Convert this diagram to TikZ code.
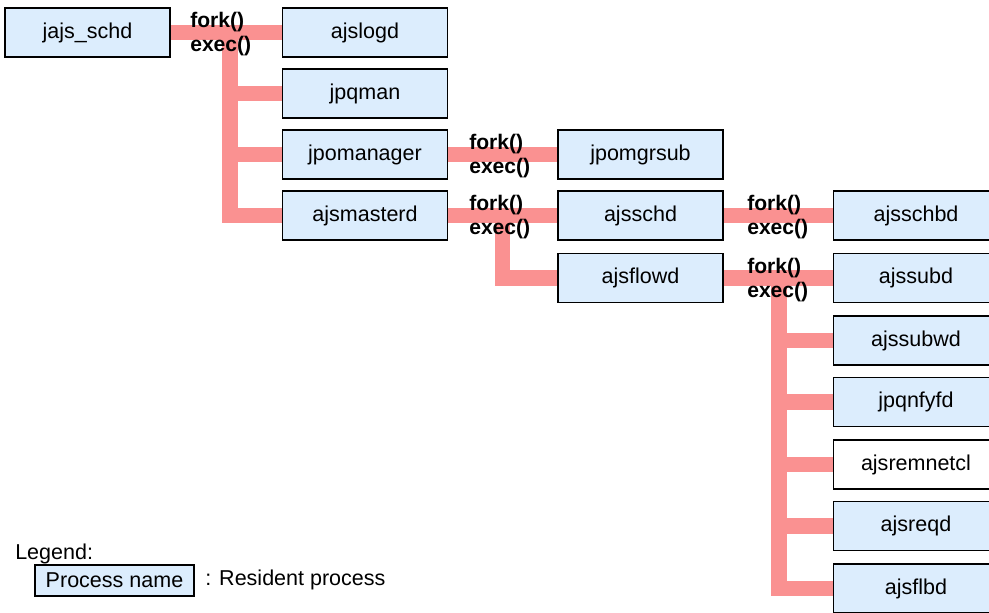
\documentclass[tikz,border=0pt]{standalone}
\usepackage{fontspec}
\setmainfont{Liberation Sans}
\usetikzlibrary{backgrounds}
\definecolor{linkpink}{RGB}{250,145,145}
\definecolor{procblue}{RGB}{220,237,253}

\begin{document}
\begin{tikzpicture}[x=0.025cm, y=-0.025cm,
    font=\fontsize{15.3pt}{17pt}\selectfont,
    proc/.style={draw=black, line width=1.1pt, fill=procblue, minimum width=4.125cm, minimum height=1.225cm, inner sep=0pt},
    plain/.style={proc, fill=white},
    link/.style={draw=linkpink, line width=0.39cm},
    call/.style={anchor=base west, inner sep=0pt, font=\fontsize{15pt}{17pt}\selectfont\bfseries}]
    \useasboundingbox (0,0) rectangle (989,613);

    % 画进程框
    \node[proc] (jajsschd) at (87.5,32.5) {jajs\_schd};
    \node[proc] (ajslogd) at (365,32.5) {ajslogd};
    \node[proc] (jpqman) at (365,93.5) {jpqman};
    \node[proc] (jpomanager) at (365,154.5) {jpomanager};
    \node[proc] (ajsmasterd) at (365,215.5) {ajsmasterd};
    \node[proc] (jpomgrsub) at (640.5,154.5) {jpomgrsub};
    \node[proc] (ajsschd) at (640.5,215.5) {ajsschd};
    \node[proc] (ajsflowd) at (640.5,278) {ajsflowd};
    \node[proc] (ajsschbd) at (916,215.5) {ajsschbd};
    \node[proc] (ajssubd) at (916,278) {ajssubd};
    \node[proc] (ajssubwd) at (916,340.5) {ajssubwd};
    \node[proc] (jpqnfyfd) at (916,402) {jpqnfyfd};
    \node[plain] (ajsremnetcl) at (916,464.5) {ajsremnetcl};
    \node[proc] (ajsreqd) at (916,526) {ajsreqd};
    \node[proc] (ajsflbd) at (916,588.5) {ajsflbd};

    % 画连线
    \begin{scope}[on background layer]
        \draw[link] (jajsschd.east) -- (ajslogd.west);
        \coordinate (trunkA) at (230,32.5);
        \foreach \p in {jpqman,jpomanager,ajsmasterd}
            \draw[link] (trunkA) |- (\p.west);
        \draw[link] (jpomanager.east) -- (jpomgrsub.west);
        \draw[link] (ajsmasterd.east) -- (ajsschd.west);
        \coordinate (trunkB) at (502.5,215.5);
        \draw[link] (trunkB) |- (ajsflowd.west);
        \draw[link] (ajsschd.east) -- (ajsschbd.west);
        \draw[link] (ajsflowd.east) -- (ajssubd.west);
        \coordinate (trunkC) at (779,278);
        \foreach \p in {ajssubwd,jpqnfyfd,ajsremnetcl,ajsreqd,ajsflbd}
            \draw[link] (trunkC) |- (\p.west);
    \end{scope}

    % 画 fork()/exec() 标签
    \foreach \n/\x/\y in {1/190/32.5, 2/469/154.5, 3/469/215.5, 4/747/215.5, 5/747/278} {
        \node[call] (fork\n) at (\x,\y-5) {fork()};
        \node[call] (exec\n) at (\x,\y+19) {exec()};
    }

    % 画图例
    \node[anchor=base west, inner sep=0pt] (legend) at (15,559) {Legend:};
    \node[proc, minimum width=3.975cm, minimum height=0.775cm] (legendbox) at (114.5,580.5) {Process name};
    \node[anchor=base west, inner sep=0pt] (legendtext) at (205,585) {: Resident process};
\end{tikzpicture}
\end{document}
